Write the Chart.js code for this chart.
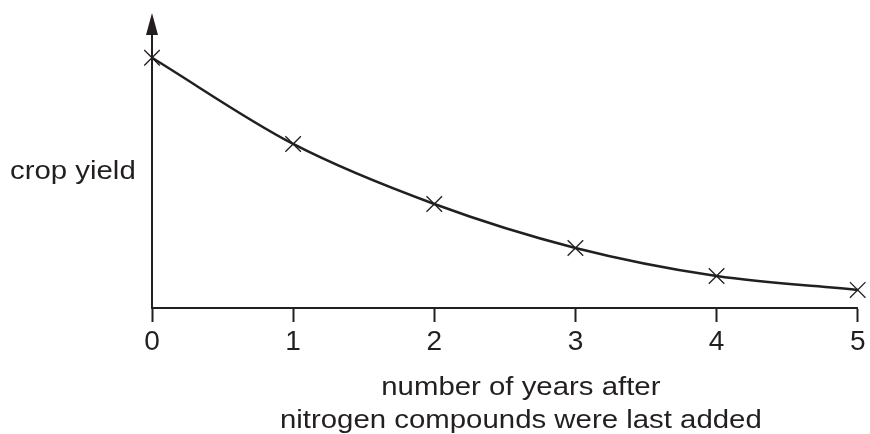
<!DOCTYPE html>
<html>
<head>
<meta charset="utf-8">
<script src="https://cdn.jsdelivr.net/npm/chart.js@4.4.1/dist/chart.umd.min.js"></script>
<style>
  html, body { margin: 0; padding: 0; background: #fff; overflow: hidden; }
  #wrap { width: 870px; height: 434px; }
</style>
</head>
<body>
<div id="wrap"><canvas id="yieldChart"></canvas></div>
<script>
// years after nitrogen compounds were last added
const years = [0, 1, 2, 3, 4, 5];
// crop yield, arbitrary units (axis has no scale)
const cropYield = [90, 59, 37.4, 21.6, 11.5, 6.5];
const xTicks = [0, 1, 2, 3, 4, 5];
const yLabel = 'crop yield';
const xTitle = ['number of years after', 'nitrogen compounds were last added'];

const ink = '#231f20';

// axis arrow + the horizontal labels that Chart.js cannot place this way
const extras = {
    id: 'extras',
    afterDraw(chart) {
        const { ctx, chartArea } = chart;
        const x0 = chart.scales.x.getPixelForValue(0);
        ctx.save();
        ctx.fillStyle = ink;

        // arrowhead on the y axis
        ctx.beginPath();
        ctx.moveTo(x0, 13);
        ctx.lineTo(x0 - 6, 35);
        ctx.lineTo(x0 + 6, 35);
        ctx.closePath();
        ctx.fill();

        ctx.font = '26px "Liberation Sans", Arial, sans-serif';
        ctx.textBaseline = 'alphabetic';

        const stretched = (text, x, y, align) => {
            ctx.save();
            ctx.translate(x, y);
            ctx.scale(1.13, 1);
            ctx.textAlign = align;
            ctx.fillText(text, 0, 0);
            ctx.restore();
        };

        stretched(yLabel, 10, 179, 'left');
        const cx = (chartArea.left + chartArea.right) / 2 + 16;
        stretched(xTitle[0], cx, 395, 'center');
        stretched(xTitle[1], cx, 428, 'center');
        ctx.restore();
    }
};

new Chart(document.getElementById('yieldChart'), {
    type: 'line',
    data: {
        datasets: [{
            data: years.map((x, i) => ({ x: x, y: cropYield[i] })),
            borderColor: ink,
            borderWidth: 2.5,
            cubicInterpolationMode: 'monotone',
            pointStyle: 'crossRot',
            pointRadius: 11,
            pointHoverRadius: 11,
            pointBorderWidth: 1.3,
            pointBorderColor: ink,
            clip: false,
            fill: false
        }]
    },
    options: {
        responsive: true,
        maintainAspectRatio: false,
        animation: false,
        devicePixelRatio: 1,
        layout: { padding: { top: 30, right: 7, left: 0, bottom: 0 } },
        plugins: {
            legend: { display: false },
            tooltip: { enabled: false },
            title: { display: false }
        },
        scales: {
            x: {
                type: 'linear',
                min: 0,
                max: 5,
                afterBuildTicks: (scale) => { scale.ticks = xTicks.map(v => ({ value: v })); },
                afterFit: (scale) => {
                    scale.height = 126;
                    // keep the plot edge where the reference has it
                    scale.paddingLeft = 0;
                    scale.paddingRight = 0;
                },
                grid: {
                    display: true,
                    drawOnChartArea: false,
                    drawTicks: true,
                    tickLength: 14,
                    tickWidth: 2,
                    tickColor: ink
                },
                border: { display: true, color: ink, width: 2 },
                ticks: {
                    color: ink,
                    padding: 0,
                    maxRotation: 0,
                    font: { family: '"Liberation Sans", Arial, sans-serif', size: 28, lineHeight: 1.45 }
                }
            },
            y: {
                type: 'linear',
                min: 0,
                max: 100,
                afterFit: (scale) => { scale.width = 152; },
                grid: { display: false },
                border: { display: true, color: ink, width: 2 },
                ticks: { display: false }
            }
        }
    },
    plugins: [extras]
});
</script>
</body>
</html>
